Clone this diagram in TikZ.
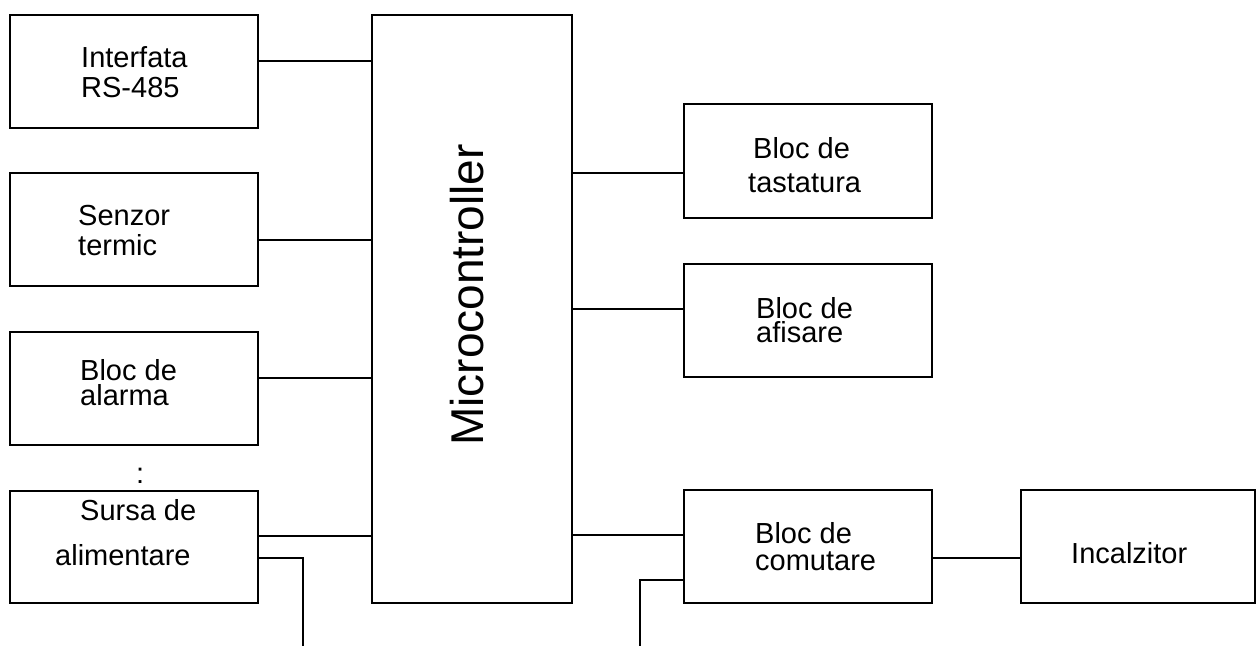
\documentclass[tikz,border=0pt]{standalone}
\usepackage{fontspec}
\setmainfont{Liberation Sans}
\begin{document}
\begin{tikzpicture}[x=1pt,y=-1pt,
  box/.style={draw,line width=2.6pt,inner sep=0pt,outer sep=0pt},
  lbl/.style={anchor=base west,inner sep=0pt,font=\fontsize{29}{31}\selectfont},
  two/.style={anchor=north west,inner sep=0pt,align=left,font=\fontsize{29}{#1}\selectfont},
  wire/.style={line width=2.6pt}]
\useasboundingbox (0,0) rectangle (1258,646);
% boxes
\node[box,minimum width=248,minimum height=113] (b1) at (134,71.5) {};
\node[box,minimum width=248,minimum height=113] (b2) at (134,229.5) {};
\node[box,minimum width=248,minimum height=113] (b3) at (134,388.5) {};
\node[box,minimum width=248,minimum height=112] (b4) at (134,547) {};
\node[box,minimum width=200,minimum height=588] (mc) at (472,309) {};
\node[box,minimum width=248,minimum height=114] (r1) at (808,161) {};
\node[box,minimum width=248,minimum height=113] (r2) at (808,320.5) {};
\node[box,minimum width=248,minimum height=113] (r3) at (808,546.5) {};
\node[box,minimum width=234,minimum height=113] (inc) at (1138,546.5) {};
% texts
\node[lbl] (t1a) at (81,67) {Interfata};
\node[lbl] (t1b) at (81,97) {RS-485};
\node[lbl] (t2a) at (78,225) {Senzor};
\node[lbl] (t2b) at (78,255) {termic};
\node[two=25] (t3) at (80,358.9) {Bloc de\\alarma};
\node[lbl] (dots) at (136,483) {:};
\node[lbl] (t4a) at (80,520) {Sursa de};
\node[lbl] (t4b) at (55,565) {alimentare};
\node[anchor=base,rotate=90,inner sep=0pt,font=\fontsize{46}{50}\selectfont] (mct) at (483,295) {Microcontroller};
\node[lbl] (r1a) at (753,158) {Bloc de};
\node[lbl] (r1b) at (748,192) {tastatura};
\node[two=24] (r2t) at (756,296.9) {Bloc de\\afisare};
\node[lbl] (r3a) at (755,543) {Bloc de};
\node[lbl] (r3b) at (755,570) {comutare};
\node[lbl] (inct) at (1071,563) {Incalzitor};
% free ends
\coordinate (e1) at (303,646);
\coordinate (e2) at (640,646);
% connectors
\draw[wire] (b1.east |- 0,61) -- (mc.west |- 0,61);
\draw[wire] (b2.east |- 0,240) -- (mc.west |- 0,240);
\draw[wire] (b3.east |- 0,378) -- (mc.west |- 0,378);
\draw[wire] (b4.east |- 0,536) -- (mc.west |- 0,536);
\draw[wire] (b4.east |- 0,558) -| (e1);
\draw[wire] (mc.east |- 0,173) -- (r1.west |- 0,173);
\draw[wire] (mc.east |- 0,309) -- (r2.west |- 0,309);
\draw[wire] (mc.east |- 0,535) -- (r3.west |- 0,535);
\draw[wire] (r3.west |- 0,580) -| (e2);
\draw[wire] (r3.east |- 0,558) -- (inc.west |- 0,558);
\end{tikzpicture}
\end{document}
